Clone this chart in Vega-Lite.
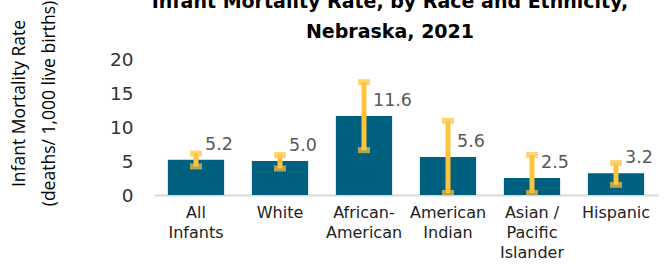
{
  "$schema": "https://vega.github.io/schema/vega-lite/v6.json",
  "width": 504,
  "height": 136,
  "autosize": {"type": "none"},
  "padding": {"left": 154, "top": 59, "right": 8, "bottom": 70},
  "background": "white",
  "config": {"view": {"stroke": null}, "font": "DejaVu Sans"},
  "title": {
    "text": ["Infant Mortality Rate, by Race and Ethnicity,", "Nebraska, 2021"],
    "fontSize": 19,
    "fontWeight": "bold",
    "color": "#000000",
    "font": "DejaVu Sans",
    "anchor": "middle",
    "dx": -16,
    "dy": 56,
    "offset": 14,
    "lineHeight": 30
  },
  "data": {
    "values": [
      {"group": "All Infants", "rate": 5.2, "lo": 4.2, "hi": 6.1},
      {"group": "White", "rate": 5.0, "lo": 3.9, "hi": 5.9},
      {"group": "African-American", "rate": 11.6, "lo": 6.6, "hi": 16.6},
      {"group": "American Indian", "rate": 5.6, "lo": 0.3, "hi": 10.9},
      {"group": "Asian / Pacific Islander", "rate": 2.5, "lo": 0.3, "hi": 5.9},
      {"group": "Hispanic", "rate": 3.2, "lo": 1.5, "hi": 4.7}
    ]
  },
  "resolve": {"axis": {"y": "independent"}},
  "encoding": {
    "x": {
      "field": "group",
      "type": "nominal",
      "sort": null,
      "scale": {"paddingInner": 0.33, "paddingOuter": 0.165},
      "axis": {
        "title": null,
        "labelAngle": 0,
        "labelExpr": "split(datum.value == 'All Infants' ? 'All|Infants' : datum.value == 'African-American' ? 'African-|American' : datum.value == 'American Indian' ? 'American|Indian' : datum.value == 'Asian / Pacific Islander' ? 'Asian /|Pacific|Islander' : datum.value, '|')",
        "labelFontSize": 16,
        "labelColor": "#222222",
        "labelLineHeight": 20,
        "labelPadding": 9,
        "labelBaseline": "top",
        "labelOverlap": false,
        "ticks": false,
        "domainColor": "#D9D9D9",
        "domainWidth": 2
      }
    }
  },
  "layer": [
    {
      "mark": {"type": "bar", "color": "#00607F"},
      "encoding": {
        "y": {
          "field": "rate",
          "type": "quantitative",
          "scale": {"domain": [0, 20]},
          "axis": {
            "values": [0, 5, 10, 15, 20],
            "grid": false,
            "domain": false,
            "ticks": false,
            "labelOverlap": false,
            "labelFontSize": 18.5,
            "labelColor": "#333333",
            "labelPadding": 21,
            "title": ["Infant Mortality Rate", "(deaths/ 1,000 live births)"],
            "titleFont": "Open Sans",
            "titleFontSize": 17.5,
            "titleFontWeight": "normal",
            "titleColor": "#000000",
            "titleLineHeight": 30,
            "titleAnchor": null,
            "titleY": 44,
            "titleX": -126
          }
        }
      }
    },
    {
      "mark": {"type": "rule", "color": "#FFC43D", "strokeWidth": 5},
      "encoding": {
        "y": {"field": "lo", "type": "quantitative", "axis": null},
        "y2": {"field": "hi"}
      }
    },
    {
      "mark": {"type": "tick", "color": "#FFC43D", "size": 12, "thickness": 6},
      "encoding": {"y": {"field": "hi", "type": "quantitative", "axis": null}}
    },
    {
      "mark": {"type": "tick", "color": "#FFC43D", "size": 12, "thickness": 6},
      "encoding": {"y": {"field": "lo", "type": "quantitative", "axis": null}}
    },
    {
      "mark": {"type": "text", "align": "left", "baseline": "middle", "dx": 9, "dy": -15, "fontSize": 17.5, "color": "#595959"},
      "encoding": {
        "y": {"field": "rate", "type": "quantitative", "axis": null},
        "text": {"field": "rate", "type": "quantitative", "format": ".1f"}
      }
    }
  ]
}
